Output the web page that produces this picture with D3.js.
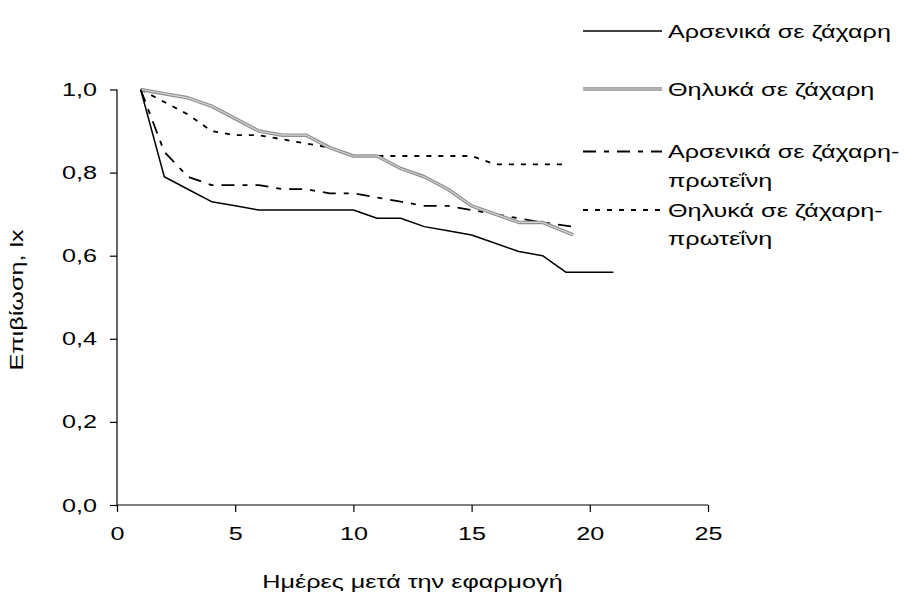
<!DOCTYPE html>
<html><head><meta charset="utf-8">
<script src="https://cdn.jsdelivr.net/npm/d3@7"></script>
<style>body{margin:0;background:#fff}svg{display:block}text{font-family:"Liberation Sans",Arial,sans-serif;fill:#000}</style>
</head><body>
<script>
const seriesNames = ["Αρσενικά σε ζάχαρη","Θηλυκά σε ζάχαρη","Αρσενικά σε ζάχαρη-|πρωτεΐνη","Θηλυκά σε ζάχαρη-|πρωτεΐνη"];
const daysMaleSugar = [1,2,3,4,5,6,7,8,9,10,11,12,13,14,15,16,17,18,19,20,21];
const maleSugar = [1.00,0.79,0.76,0.73,0.72,0.71,0.71,0.71,0.71,0.71,0.69,0.69,0.67,0.66,0.65,0.63,0.61,0.60,0.56,0.56,0.56];
const daysFemaleSugar = [1,2,3,4,5,6,7,8,9,10,11,12,13,14,15,16,17,18,19.3];
const femaleSugar = [1.00,0.99,0.98,0.96,0.93,0.90,0.89,0.89,0.86,0.84,0.84,0.81,0.79,0.76,0.72,0.70,0.68,0.68,0.65];
const daysMaleProt = [1,2,3,4,5,6,7,8,9,10,11,12,13,14,15,16,17,18,19.3];
const maleProt = [1.00,0.85,0.79,0.77,0.77,0.77,0.76,0.76,0.75,0.75,0.74,0.73,0.72,0.72,0.71,0.70,0.69,0.68,0.67];
const daysFemaleProt = [1,2,3,4,5,6,7,8,9,10,11,12,13,14,15,16,17,18,19];
const femaleProt = [1.00,0.97,0.94,0.90,0.89,0.89,0.88,0.87,0.86,0.84,0.84,0.84,0.84,0.84,0.84,0.82,0.82,0.82,0.82];
const xTicks = [0,5,10,15,20,25];
const yTicks = [0,0.2,0.4,0.6,0.8,1.0];
const xTitle = "Ημέρες μετά την εφαρμογή";
const yTitle = "Επιβίωση, lx";

const W=910,H=597,FS=18.5,STRETCH=1.36;
const svg=d3.select("body").append("svg").attr("width",W).attr("height",H);
const x=d3.scaleLinear().domain([0,25]).range([117,708]);
const y=d3.scaleLinear().domain([0,1]).range([505,89.5]);
const fmt=d=>d3.format(".1f")(d).replace(".",",");

const gx=svg.append("g").attr("transform","translate(0,505)")
  .call(d3.axisBottom(x).tickValues(xTicks).tickSize(7).tickFormat(d3.format("d")));
const gy=svg.append("g").attr("transform","translate(117,0)")
  .call(d3.axisLeft(y).tickValues(yTicks).tickSize(7).tickFormat(fmt));
[gx,gy].forEach(g=>{g.select(".domain").attr("stroke","#000").attr("stroke-width",1.2);
  g.selectAll(".tick line").attr("stroke","#000").attr("stroke-width",1.2);
  g.selectAll("text").attr("font-size",FS).attr("font-family","Liberation Sans, Arial, sans-serif");});
gx.selectAll("text").attr("y",35).attr("dy",null);
gy.selectAll("text").attr("x",-20).attr("dy",null).attr("y",6);
gx.select(".domain").attr("d","M117,0H708");
gy.select(".domain").attr("d","M0,505V89.5");

svg.append("text").attr("x",(x(0)+x(25))/2).attr("y",588).attr("text-anchor","middle").attr("font-size",FS).text(xTitle);
svg.append("text").attr("transform","translate(23,300) rotate(-90)").attr("text-anchor","middle").attr("font-size",FS).text(yTitle);

const styles=[
  {layers:[{c:"#000",w:1.5,d:null}]},
  {layers:[{c:"#8e8e8e",w:3.5,d:null},{c:"#d4d4d4",w:1.2,d:null}]},
  {layers:[{c:"#000",w:1.8,d:"13,8,5,8"}]},
  {layers:[{c:"#000",w:1.8,d:"5,7"}]}
];
const data=[[daysMaleSugar,maleSugar],[daysFemaleSugar,femaleSugar],[daysMaleProt,maleProt],[daysFemaleProt,femaleProt]];
const line=d3.line().x(d=>x(d[0])).y(d=>y(d[1]));
[3,2,1,0].forEach(i=>{
  const pts=data[i][0].map((d,j)=>[d,data[i][1][j]]);
  styles[i].layers.forEach(l=>{
    svg.append("path").datum(pts).attr("d",line).attr("fill","none")
      .attr("stroke",l.c).attr("stroke-width",l.w).attr("stroke-dasharray",l.d).attr("stroke-linejoin","round");
  });
});

const legY=[31,89,151.5,210];
seriesNames.forEach((n,i)=>{
  const g=svg.append("g");
  styles[i].layers.forEach(l=>{
    g.append("line").attr("x1",583).attr("x2",662).attr("y1",legY[i]).attr("y2",legY[i])
      .attr("stroke",l.c).attr("stroke-width",l.w).attr("stroke-dasharray",l.d);
  });
  n.split("|").forEach((t,k)=>{
    g.append("text").attr("x",668).attr("y",legY[i]+6.5+k*28.5).attr("font-size",FS).text(t);
  });
});

svg.selectAll("text").each(function(){
  const L=this.getComputedTextLength();
  d3.select(this).attr("textLength",L*STRETCH).attr("lengthAdjust","spacingAndGlyphs");
});
</script>
</body></html>
